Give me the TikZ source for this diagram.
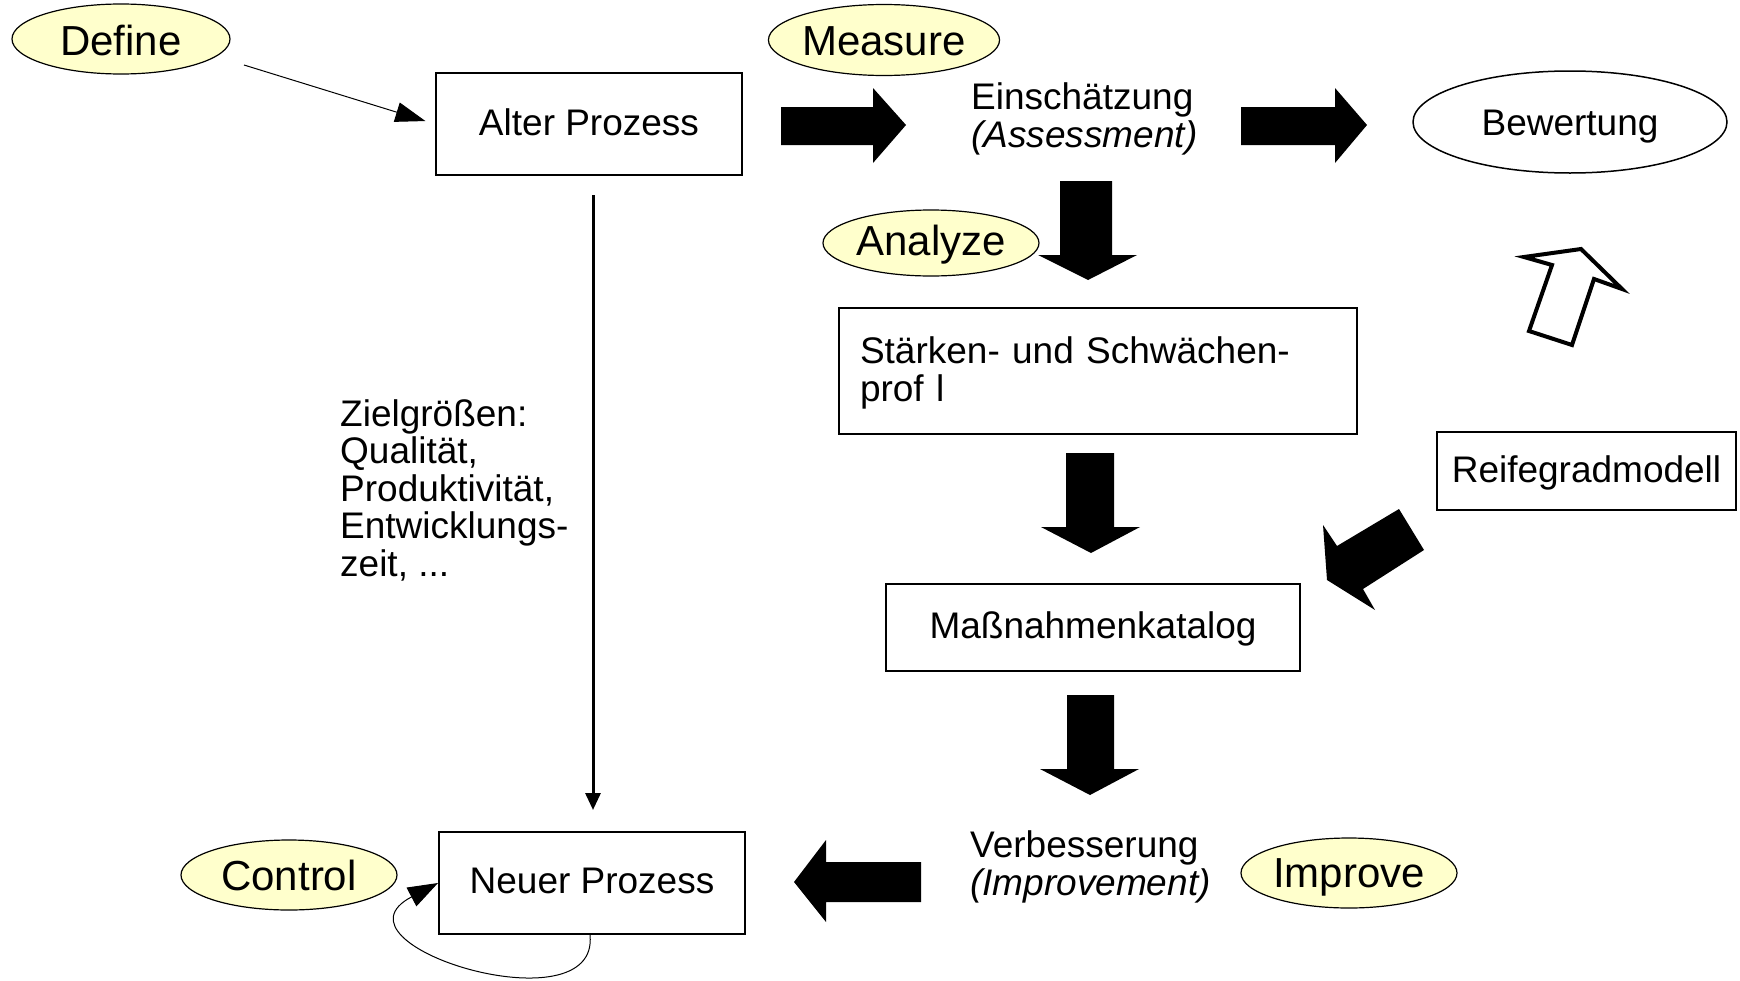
\documentclass[tikz,border=0pt]{standalone}
\usepackage{fontspec}
\setmainfont{Liberation Sans}
\usetikzlibrary{shapes.geometric,arrows.meta,calc}
\definecolor{phasefill}{RGB}{255,255,204}
\newcommand{\vshift}[2]{\raisebox{#1}[\height][\depth]{#2}}
\begin{document}
\begin{tikzpicture}[x=1pt,y=-1pt,
  phase/.style={ellipse,draw,line width=1.2pt,fill=phasefill,inner sep=0pt,font=\fontsize{42}{44}\selectfont},
  box/.style={rectangle,draw,line width=2pt,inner sep=0pt,font=\fontsize{37}{38}\selectfont},
  plaintext/.style={inner sep=0pt,font=\fontsize{37}{38}\selectfont,align=left},
  blk/.style={fill=black},
  conn/.style={line width=1pt}]
\useasboundingbox (0,0) rectangle (1740,980);

% phase ellipses
\node[phase,minimum width=218pt,minimum height=70pt] (define) at (121,39) {\vshift{-1pt}{Define}};
\node[phase,minimum width=216pt,minimum height=71pt] (measure) at (884,40) {\vshift{-1pt}{Measure}};
\node[phase,minimum width=216pt,minimum height=66pt] (analyze) at (931,243) {\vshift{-2pt}{Analyze}};
\node[phase,minimum width=216pt,minimum height=70pt] (control) at (289,875) {Control};
\node[phase,minimum width=216pt,minimum height=70pt] (improve) at (1349,873) {\vshift{-4.4pt}{Improve}};

% boxes
\node[box,minimum width=306pt,minimum height=102pt] (alter) at (589,124) {\vshift{2.2pt}{Alter Prozess}};
\node[box,minimum width=518pt,minimum height=126pt,text width=476pt,inner xsep=21pt,align=left] (staerken) at (1098,371) {\vshift{-2.2pt}{St\"arken- und Schw\"achen-}\\\vshift{-2.2pt}{prof l}};
\node[box,minimum width=299pt,minimum height=78pt] (reife) at (1586.5,471) {\vshift{-2.2pt}{Reifegradmodell}};
\node[box,minimum width=414pt,minimum height=87pt] (mass) at (1093,627.5) {\vshift{-1pt}{Ma\ss{}nahmenkatalog}};
\node[box,minimum width=306pt,minimum height=102pt] (neuer) at (592,883) {\vshift{2.2pt}{Neuer Prozess}};
\node[ellipse,draw,line width=1.5pt,inner sep=0pt,minimum width=314pt,minimum height=102pt,font=\fontsize{37}{38}\selectfont] (bewertung) at (1570,122) {\vshift{-4.4pt}{Bewertung}};

% free texts
\node[plaintext,anchor=west] (ein) at (971,118.5) {Einsch\"atzung\\\textit{(Assessment)}};
\node[plaintext,anchor=west] (verb) at (970,866.5) {Verbesserung\\\textit{(Improvement)}};
\node[plaintext,anchor=west,font=\fontsize{37}{37.5}\selectfont] (ziel) at (340,490) {Zielgr\"o\ss{}en:\\Qualit\"at,\\Produktivit\"at,\\Entwicklungs-\\zeit, ...};

% block arrows
\fill[blk] (781,107) -- (873,107) -- (873,88) -- (906,125) -- (873,163) -- (873,145) -- (781,145) -- cycle;
\fill[blk] (1241,107) -- (1335,107) -- (1335,88) -- (1367,125) -- (1335,163) -- (1335,145) -- (1241,145) -- cycle;
\fill[blk] (1060,181) -- (1112,181) -- (1112,255) -- (1137,255) -- (1088,280) -- (1038,255) -- (1060,255) -- cycle;
\fill[blk] (1066,453) -- (1114,453) -- (1114,527) -- (1140,527) -- (1091,553) -- (1041,527) -- (1066,527) -- cycle;
\fill[blk] (1067,695) -- (1114,695) -- (1114,769) -- (1139,769) -- (1090,795) -- (1040,769) -- (1067,769) -- cycle;
\fill[blk] (921,862) -- (826,862) -- (826,840) -- (794,882) -- (826,922) -- (826,902) -- (921,902) -- cycle;
\fill[blk] (1399,509) -- (1424,550) -- (1363,589) -- (1375,610) -- (1327,580) -- (1323,525) -- (1337,546) -- cycle;
\draw[line width=4pt,fill=white,line join=miter] (1581,249) -- (1622,289) -- (1594,279) -- (1572,345) -- (1529,331) -- (1552,265) -- (1524,257) -- cycle;

% connectors
\coordinate (dstart) at (244,65);
\draw[conn,-{Triangle[length=30pt,width=20pt]},shorten >=10pt] (dstart) -- (alter.west);
\draw[line width=3pt,-{Triangle[length=17pt,width=15pt]}] ($(alter.south)+(4,19)$) -- ($(neuer.north)+(1,-21)$);
\draw[conn,-{Triangle[length=30pt,width=21pt]}] ($(neuer.south)+(-2,0)$) .. controls (600,1030) and (320,945) .. (neuer.west);
\end{tikzpicture}
\end{document}
